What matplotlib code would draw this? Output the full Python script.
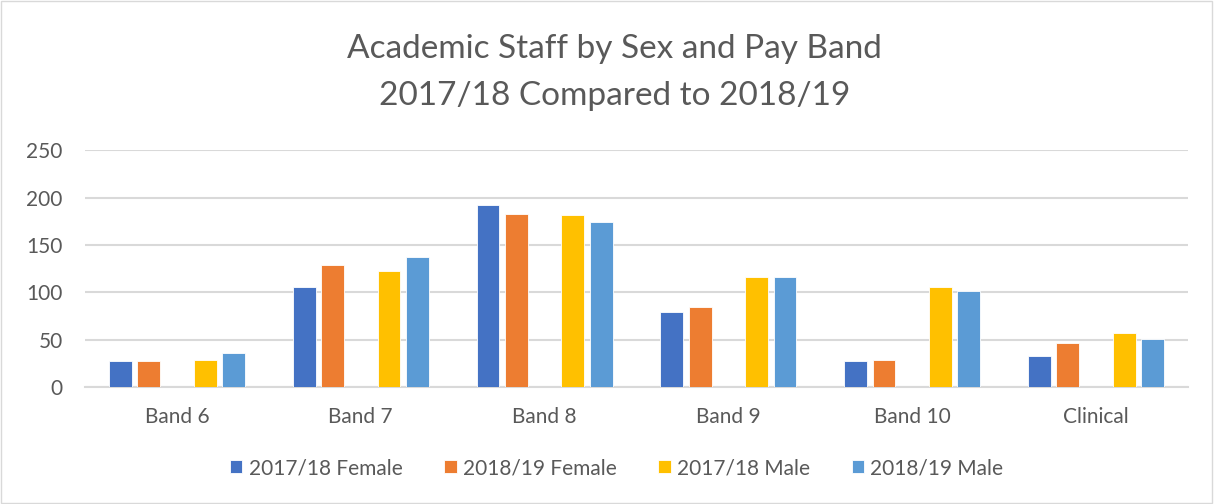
import numpy as np
import matplotlib
matplotlib.use("Agg")
import matplotlib.pyplot as plt
from matplotlib.patches import Rectangle

plt.rcParams['font.family'] = ['Lato', 'DejaVu Sans']

# Staff counts per pay band
bands = ["Band 6", "Band 7", "Band 8", "Band 9", "Band 10", "Clinical"]
female_1718 = [28, 106, 192, 79, 27, 33]
female_1819 = [28, 129, 183, 85, 29, 46]
male_1718 = [29, 123, 182, 116, 106, 57]
male_1819 = [36, 137, 174, 116, 101, 51]
series_names = ["2017/18 Female", "2018/19 Female", "2017/18 Male", "2018/19 Male"]

colors = ["#4472C4", "#ED7D31", "#FFC000", "#5B9BD5"]
text_col = "#595959"
grid_col = "#D9D9D9"

fig = plt.figure(figsize=(12.14, 5.04), dpi=100)
ax = fig.add_axes([0.070, 0.232, 0.9086, 0.470])

x = np.arange(len(bands))
step = 0.154
width = 0.124
# female pair, one empty slot, then male pair
offsets = [-2 * step, -1 * step, 1 * step, 2 * step]
series = [female_1718, female_1819, male_1718, male_1819]
for vals, off, c, name in zip(series, offsets, colors, series_names):
    ax.bar(x + off, vals, width, color=c, edgecolor="white", linewidth=0.6, label=name, zorder=3)

ax.set_xlim(-0.5, len(bands) - 0.5)
ax.set_ylim(0, 250)
ax.set_yticks(range(0, 251, 50))
ax.set_xticks(x)
ax.set_xticklabels(bands)
ax.yaxis.grid(True, color=grid_col, linewidth=1.5, zorder=0)
for s in ["top", "right", "left"]:
    ax.spines[s].set_visible(False)
ax.spines["bottom"].set_color(grid_col)
ax.spines["bottom"].set_linewidth(1.5)
ax.tick_params(axis="both", length=0, labelsize=15, colors=text_col)
ax.tick_params(axis="x", pad=14)
ax.tick_params(axis="y", pad=16)

fig.text(0.506, 0.902, "Academic Staff by Sex and Pay Band", ha="center", va="center",
         fontsize=24, color=text_col)
fig.text(0.506, 0.809, "2017/18 Compared to 2018/19", ha="center", va="center",
         fontsize=24, color=text_col)

fig.legend(loc="center", bbox_to_anchor=(0.508, 0.071), ncol=4, frameon=False,
           fontsize=15, labelcolor=text_col, handlelength=0.6, handleheight=0.6,
           handletextpad=0.3, columnspacing=2.0)

fig.patches.append(Rectangle((0.001, 0.002), 0.997, 0.996, transform=fig.transFigure,
                             fill=False, edgecolor=grid_col, linewidth=1))

fig.savefig("out.png", dpi=100)
